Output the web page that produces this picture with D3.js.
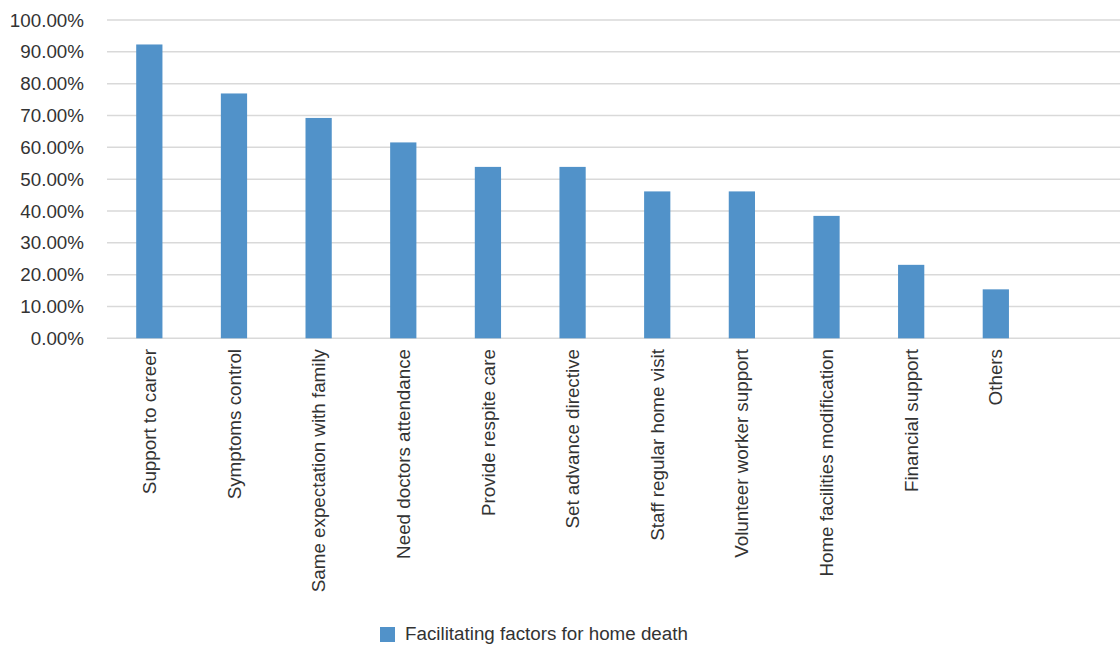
<!DOCTYPE html>
<html>
<head>
<meta charset="utf-8">
<script src="https://cdn.jsdelivr.net/npm/d3@7"></script>
<style>
  html, body { margin: 0; padding: 0; background: #fff; }
  svg { display: block; font-family: "Liberation Sans", Arial, Helvetica, sans-serif; }
</style>
</head>
<body>
<svg id="chart" width="1120" height="646"></svg>
<script>
const categories = [
  "Support to career",
  "Symptoms control",
  "Same expectation with family",
  "Need doctors attendance",
  "Provide respite care",
  "Set advance directive",
  "Staff regular home visit",
  "Volunteer worker support",
  "Home facilities modification",
  "Financial support",
  "Others"
];
const values = [0.9231, 0.7692, 0.6923, 0.6154, 0.5385, 0.5385, 0.4615, 0.4615, 0.3846, 0.2308, 0.1538];
const yTicks = [0, 0.1, 0.2, 0.3, 0.4, 0.5, 0.6, 0.7, 0.8, 0.9, 1.0];
const seriesName = "Facilitating factors for home death";

const svg = d3.select("#chart");
const W = 1120;
const plotLeft = 107, step = 84.65;
const x = d3.scaleBand()
  .domain(categories)
  .range([plotLeft, plotLeft + step * categories.length])
  .paddingInner(0.69)
  .paddingOuter(0.345);
const y = d3.scaleLinear().domain([0, 1]).range([338.3, 20]);

const barColor = "#5192c9";
const textColor = "#333333";
const fontSize = 18.8;

// gridlines
svg.append("g")
  .selectAll("line")
  .data(yTicks)
  .join("line")
  .attr("x1", plotLeft)
  .attr("x2", W)
  .attr("y1", d => y(d))
  .attr("y2", d => y(d))
  .attr("stroke", "#d9d9d9")
  .attr("stroke-width", 1.5);

// y labels
svg.append("g")
  .selectAll("text")
  .data(yTicks)
  .join("text")
  .attr("x", 84)
  .attr("y", d => y(d))
  .attr("dy", "0.35em")
  .attr("text-anchor", "end")
  .attr("font-size", fontSize)
  .attr("fill", textColor)
  .text(d => (d * 100).toFixed(2) + "%");

// bars
svg.append("g")
  .selectAll("rect")
  .data(values)
  .join("rect")
  .attr("x", (d, i) => x(categories[i]))
  .attr("width", x.bandwidth())
  .attr("y", d => y(d))
  .attr("height", d => y(0) - y(d))
  .attr("fill", barColor);

// x labels
svg.append("g")
  .selectAll("text")
  .data(categories)
  .join("text")
  .attr("transform", d => `translate(${x(d) + x.bandwidth() / 2},349) rotate(-90)`)
  .attr("dy", "0.35em")
  .attr("text-anchor", "end")
  .attr("font-size", fontSize)
  .attr("fill", textColor)
  .text(d => d);

// legend
const lg = svg.append("g");
lg.append("rect")
  .attr("x", 380).attr("y", 627)
  .attr("width", 15).attr("height", 15)
  .attr("fill", barColor);
lg.append("text")
  .attr("x", 405).attr("y", 640)
  .attr("font-size", fontSize)
  .attr("fill", textColor)
  .text(seriesName);
</script>
</body>
</html>
